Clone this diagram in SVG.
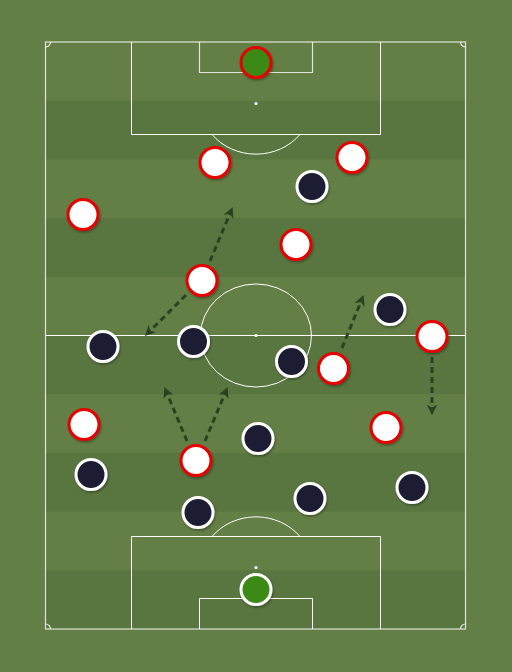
<svg xmlns="http://www.w3.org/2000/svg" width="512" height="672" viewBox="0 0 512 672">
<defs>
<style>
.ln{fill:none;stroke:#fff;stroke-width:1}
.lo{fill:none;stroke:#fff;stroke-opacity:0.8;stroke-width:1.2}
.stripe{fill:#597540}
.a{fill:#fff;stroke:#e60000;stroke-width:3}
.b{fill:#1f1e33;stroke:#fff;stroke-width:3}
.gk1{fill:#3b8a16;stroke:#e60000;stroke-width:3}
.gk2{fill:#3b8a16;stroke:#fff;stroke-width:3}
.arr{fill:none;stroke:#2c4024;stroke-width:3;stroke-dasharray:6 4;marker-end:url(#ah)}
</style>
<marker id="ah" viewBox="0 0 10 10" refX="6" refY="5" markerWidth="3.6" markerHeight="3.6" orient="auto" markerUnits="strokeWidth">
<path d="M0,0 L10,5 L0,10 L3,5 Z" fill="#2c4024"/>
</marker>
<filter id="sh" x="-30%" y="-30%" width="160%" height="160%">
<feDropShadow dx="1" dy="1.5" stdDeviation="1" flood-color="#000" flood-opacity="0.35"/>
</filter>
</defs>
<rect width="512" height="672" fill="#637f45"/>
<g id="pitch">
<rect class="stripe" x="45.5" y="100.7" width="420" height="58.7"/>
<rect class="stripe" x="45.5" y="218.1" width="420" height="58.7"/>
<rect class="stripe" x="45.5" y="335.5" width="420" height="58.7"/>
<rect class="stripe" x="45.5" y="452.9" width="420" height="58.7"/>
<rect class="stripe" x="45.5" y="570.3" width="420" height="58.7"/>
<rect class="lo" x="45.5" y="42" width="420" height="587"/>
<path class="lo" d="M45.5,47 A5,5 0 0 0 50.5,42 M460.5,42 A5,5 0 0 0 465.5,47 M45.5,624 A5,5 0 0 1 50.5,629 M460.5,629 A5,5 0 0 1 465.5,624"/>
<line class="ln" x1="45.5" y1="335.5" x2="465.5" y2="335.5"/>
<ellipse class="ln" cx="256" cy="335.5" rx="55.5" ry="51.5"/>
<circle cx="256" cy="335.5" r="1.6" fill="#fff"/>
<path class="ln" d="M131.5,42 V134.5 H380.5 V42"/>
<path class="lo" d="M199.5,42 V72.5 H312.5 V42"/>
<circle cx="256" cy="103.5" r="1.6" fill="#fff"/>
<path class="ln" d="M212,134.5 A56,51.5 0 0 0 300,134.5"/>
<path class="ln" d="M131.5,629 V536.5 H380.5 V629"/>
<path class="ln" d="M199.5,629 V598.5 H312.5 V629"/>
<circle cx="256" cy="567.5" r="1.6" fill="#fff"/>
<path class="ln" d="M212,536.5 A56,51.5 0 0 1 300,536.5"/>
</g>
<g id="connectors">
<line class="arr" x1="210" y1="261" x2="231" y2="211"/>
<line class="arr" x1="186" y1="295" x2="148" y2="333"/>
<line class="arr" x1="187" y1="441" x2="166" y2="391"/>
<line class="arr" x1="205" y1="441" x2="226" y2="391"/>
<line class="arr" x1="342" y1="348" x2="362" y2="299"/>
<line class="arr" x1="432" y1="357" x2="432" y2="411"/>
</g>
<g filter="url(#sh)">
<g id="red-gk"><circle class="gk1" cx="256" cy="62.5" r="15"/></g>
<g id="red-1"><circle class="a" cx="215" cy="162.5" r="15"/></g>
<g id="red-2"><circle class="a" cx="352" cy="157.5" r="15"/></g>
<g id="red-3"><circle class="a" cx="83" cy="214.5" r="15"/></g>
<g id="red-4"><circle class="a" cx="296" cy="244.5" r="15"/></g>
<g id="red-5"><circle class="a" cx="202" cy="280.5" r="15"/></g>
<g id="red-6"><circle class="a" cx="432" cy="336.5" r="15"/></g>
<g id="red-7"><circle class="a" cx="333.5" cy="368.5" r="15"/></g>
<g id="red-8"><circle class="a" cx="84" cy="424.5" r="15"/></g>
<g id="red-9"><circle class="a" cx="386" cy="427.5" r="15"/></g>
<g id="red-10"><circle class="a" cx="196" cy="460.5" r="15"/></g>
<g id="dark-1"><circle class="b" cx="312" cy="186.5" r="15"/></g>
<g id="dark-2"><circle class="b" cx="390" cy="309.5" r="15"/></g>
<g id="dark-3"><circle class="b" cx="103" cy="346.5" r="15"/></g>
<g id="dark-4"><circle class="b" cx="193.5" cy="341.5" r="15"/></g>
<g id="dark-5"><circle class="b" cx="291.5" cy="361.5" r="15"/></g>
<g id="dark-6"><circle class="b" cx="258" cy="438.5" r="15"/></g>
<g id="dark-7"><circle class="b" cx="91" cy="474.5" r="15"/></g>
<g id="dark-8"><circle class="b" cx="412" cy="487.5" r="15"/></g>
<g id="dark-9"><circle class="b" cx="198" cy="512.5" r="15"/></g>
<g id="dark-10"><circle class="b" cx="310" cy="498.5" r="15"/></g>
<g id="dark-gk"><circle class="gk2" cx="256" cy="589.5" r="15"/></g>
</g>
</svg>
